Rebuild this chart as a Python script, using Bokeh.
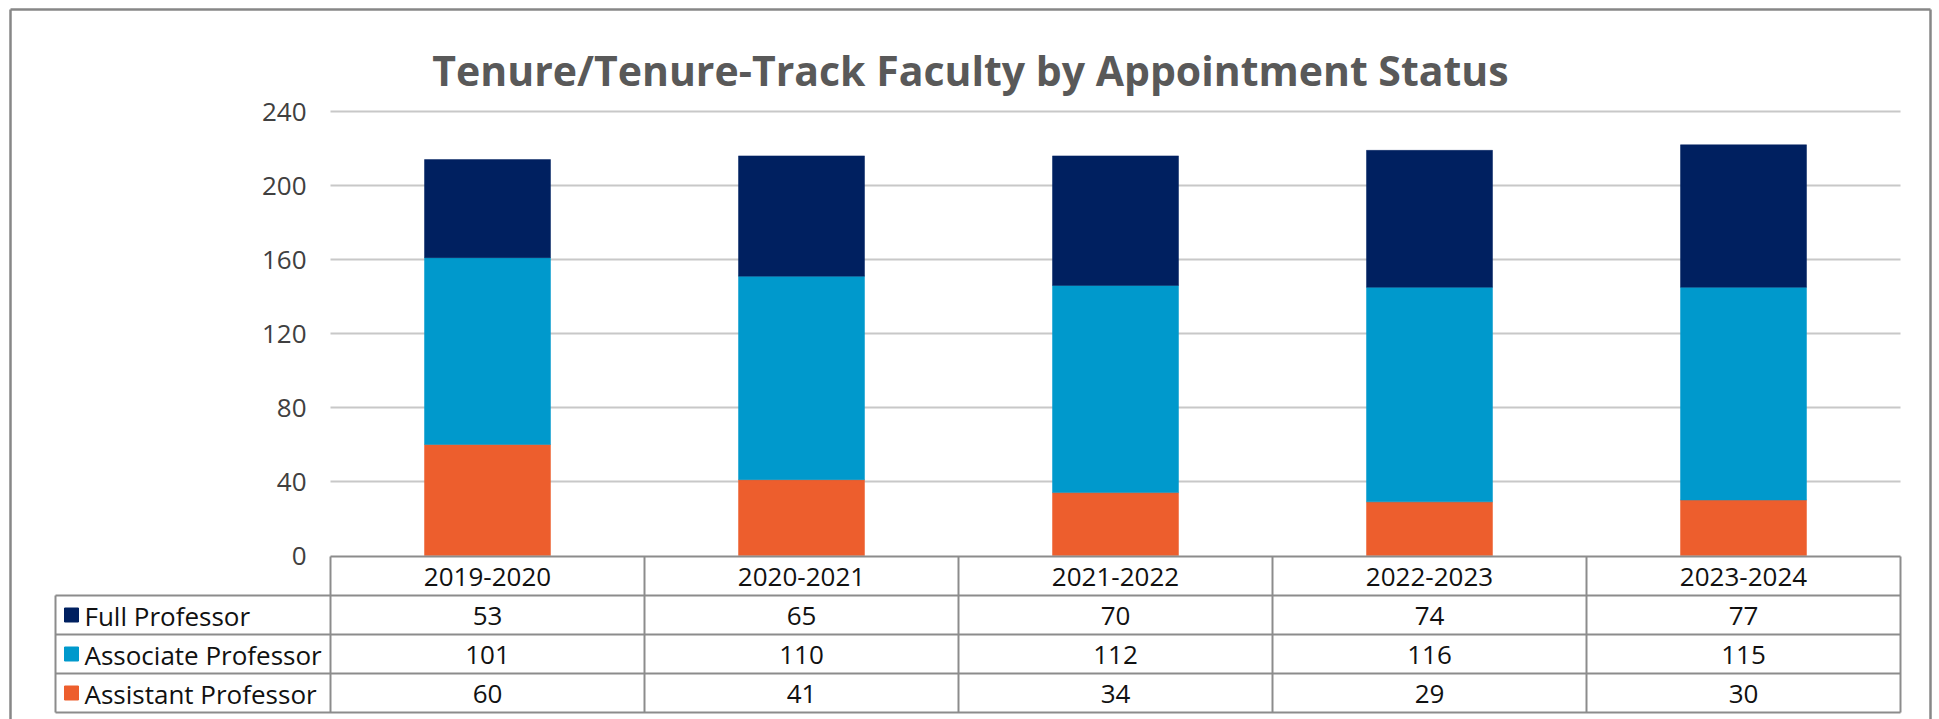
from bokeh.plotting import figure
from bokeh.models import ColumnDataSource, Range1d
from bokeh.core.properties import value
from bokeh.embed import file_html
from bokeh.resources import INLINE

# ---------------- data ----------------
chart_title = "Tenure/Tenure-Track Faculty by Appointment Status"
years = ["2019-2020", "2020-2021", "2021-2022", "2022-2023", "2023-2024"]
full_prof = [53, 65, 70, 74, 77]
assoc_prof = [101, 110, 112, 116, 115]
asst_prof = [60, 41, 34, 29, 30]
series_labels = ["Full Professor", "Associate Professor", "Assistant Professor"]
y_ticks = [0, 40, 80, 120, 160, 200, 240]

# ---------------- style ----------------
C_FULL = "#002060"
C_ASSOC = "#0099CC"
C_ASST = "#ED5E2D"
GRID_C = "#C8C8C8"
TABLE_C = "#8C8C8C"
BORDER_C = "#878787"
FONT = value("Open Sans")
FS = "26px"

W, H = 1939, 719          # canvas size
PL, PR = 330, 1900        # plot area left / right (canvas px)
PY0, PYT = 555, 111       # canvas y of value 0 and of the top tick
YMAX = y_ticks[-1]
NCOL = len(years)
COLW = (PR - PL) / NCOL
PXU = (PY0 - PYT) / YMAX


def ux(cx):
    return (cx - PL) / COLW


def vy(cy):
    return (PY0 - cy) / PXU


p = figure(width=W, height=H,
           x_range=Range1d(ux(0), ux(W)), y_range=Range1d(vy(H), vy(0)),
           x_axis_type=None, y_axis_type=None, title=None,
           toolbar_location=None, output_backend="svg", min_border=0)
p.outline_line_color = None
p.background_fill_color = "white"
p.border_fill_color = "white"

# gridlines
p.segment(x0=[0] * (len(y_ticks) - 1), x1=[NCOL] * (len(y_ticks) - 1),
          y0=y_ticks[1:], y1=y_ticks[1:], line_color=GRID_C, line_width=2)

# stacked bars
src = ColumnDataSource(dict(x=[i + 0.5 for i in range(NCOL)], year=years,
                            asst=asst_prof, assoc=assoc_prof, full=full_prof))
p.vbar_stack(["asst", "assoc", "full"], x="x", width=126 / COLW, source=src,
             fill_color=[C_ASST, C_ASSOC, C_FULL],
             line_color=[C_ASST, C_ASSOC, C_FULL], line_width=0.5)

# y tick labels
p.text(x=[ux(306)] * len(y_ticks), y=y_ticks, text=[str(t) for t in y_ticks],
       text_align="right", text_baseline="middle", text_font=FONT,
       text_font_size=FS, text_color="#404040")

# ---------------- data table ----------------
TBL_TOP = 556
ROW_H = 39
TBL_LEFT = 55
row_tops = [TBL_TOP + ROW_H * k for k in range(5)]   # header, 3 rows, bottom

hx0, hx1, hy = [], [], []
hx0.append(0); hx1.append(NCOL); hy.append(vy(TBL_TOP))
for cy in row_tops[1:]:
    hx0.append(ux(TBL_LEFT)); hx1.append(NCOL); hy.append(vy(cy))
p.segment(x0=hx0, x1=hx1, y0=hy, y1=hy, line_color=TABLE_C, line_width=2)

vx, vy0, vy1 = [], [], []
for k in range(NCOL + 1):
    vx.append(k); vy0.append(vy(row_tops[0])); vy1.append(vy(row_tops[-1]))
vx.append(ux(TBL_LEFT)); vy0.append(vy(row_tops[1])); vy1.append(vy(row_tops[-1]))
p.segment(x0=vx, x1=vx, y0=vy0, y1=vy1, line_color=TABLE_C, line_width=2)

# header (categories)
p.text(x=[i + 0.5 for i in range(NCOL)], y=[vy(row_tops[0] + ROW_H / 2 + 1)] * NCOL,
       text=years, text_align="center", text_baseline="middle", text_font=FONT,
       text_font_size=FS, text_color="#111111")

series_vals = [full_prof, assoc_prof, asst_prof]
series_cols = [C_FULL, C_ASSOC, C_ASST]
for r, (lab, vals, col) in enumerate(zip(series_labels, series_vals, series_cols)):
    cy = row_tops[r + 1] + ROW_H / 2
    p.text(x=[i + 0.5 for i in range(NCOL)], y=[vy(cy + 1)] * NCOL,
           text=[str(v) for v in vals], text_align="center", text_baseline="middle",
           text_font=FONT, text_font_size=FS, text_color="#111111")
    p.scatter(x=[ux(71)], y=[vy(cy)], marker="square", size=14,
              fill_color=col, line_color=col)
    p.text(x=[ux(84)], y=[vy(cy + 1)], text=[lab], text_align="left",
           text_baseline="middle", text_font=FONT, text_font_size=FS,
           text_color="#111111")

# title
p.text(x=[ux(970)], y=[vy(69)], text=[chart_title], text_align="center",
       text_baseline="alphabetic", text_font=FONT, text_font_style="bold",
       text_font_size="41px", text_color="#595959")

# outer chart border (left, top, right)
p.segment(x0=[ux(10), ux(10), ux(1930)], x1=[ux(10), ux(1930), ux(1930)],
          y0=[vy(H), vy(9), vy(9)], y1=[vy(9), vy(9), vy(H)],
          line_color=BORDER_C, line_width=2.5)

open("out.html", "w").write(file_html(p, INLINE))
